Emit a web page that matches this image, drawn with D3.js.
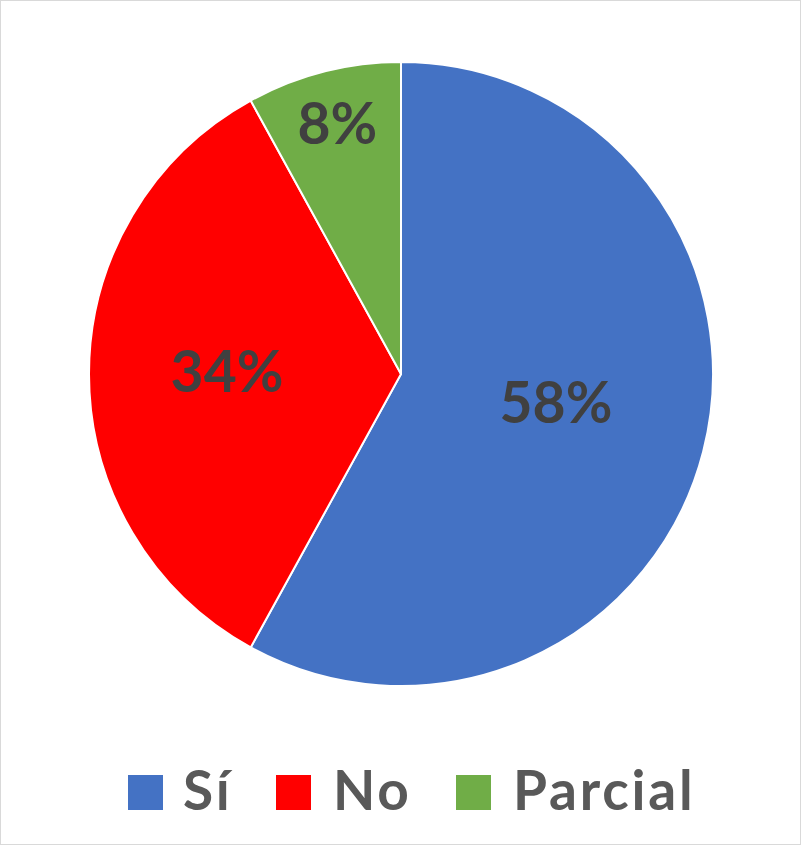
<!DOCTYPE html>
<html><head><meta charset="utf-8">
<script src="https://cdn.jsdelivr.net/npm/d3@7"></script>
<style>
html,body{margin:0;padding:0;background:#fff;}
svg{display:block;}
</style></head>
<body>
<script>
const categories = ["Sí", "No", "Parcial"];
const values = [58, 34, 8];
const labels = ["58%", "34%", "8%"];
const colors = ["#4472C4", "#FF0000", "#70AD47"];

const W = 801, H = 845;
const cx = 401, cy = 374, R = 312;
const labelR = [160, 174, 248];
const labelShift = [[0, -11], [0, -3], [-2, -10]];
const font = "Lato, 'Open Sans', sans-serif";

const svg = d3.select("body").append("svg").attr("width", W).attr("height", H);
svg.append("rect").attr("x", 0.5).attr("y", 0.5).attr("width", W - 1).attr("height", H - 1)
  .attr("fill", "#fff").attr("stroke", "#d9d9d9").attr("stroke-width", 1);

const pie = d3.pie().sort(null).value(d => d)(values);
const arc = d3.arc().innerRadius(0).outerRadius(R);
const g = svg.append("g").attr("transform", `translate(${cx},${cy})`);
g.selectAll("path").data(pie).join("path")
  .attr("d", arc)
  .attr("fill", (d, i) => colors[i])
  .attr("stroke", "#fff").attr("stroke-width", 2).attr("stroke-linejoin", "round");

g.selectAll("text.lbl").data(pie).join("text").attr("class", "lbl")
  .attr("transform", (d, i) => {
    const a = (d.startAngle + d.endAngle) / 2;
    return `translate(${Math.sin(a) * labelR[i] + labelShift[i][0]},${-Math.cos(a) * labelR[i] + labelShift[i][1]})`;
  })
  .attr("text-anchor", "middle").attr("dy", "0.36em")
  .attr("font-family", font).attr("font-weight", "bold").attr("font-size", 57)
  .attr("fill", "#404040")
  .text((d, i) => labels[i]);

const legendX = [128, 276, 456];
const textGap = [55, 57, 57];
const leg = svg.append("g");
categories.forEach((c, i) => {
  leg.append("rect").attr("x", legendX[i]).attr("y", 775).attr("width", 35).attr("height", 35).attr("fill", colors[i]);
  leg.append("text").attr("x", legendX[i] + textGap[i]).attr("y", 810)
    .attr("font-family", font).attr("font-weight", "bold").attr("font-size", 55)
    .attr("letter-spacing", 2.8)
    .attr("fill", "#595959").text(c);
});
</script>
</body></html>
